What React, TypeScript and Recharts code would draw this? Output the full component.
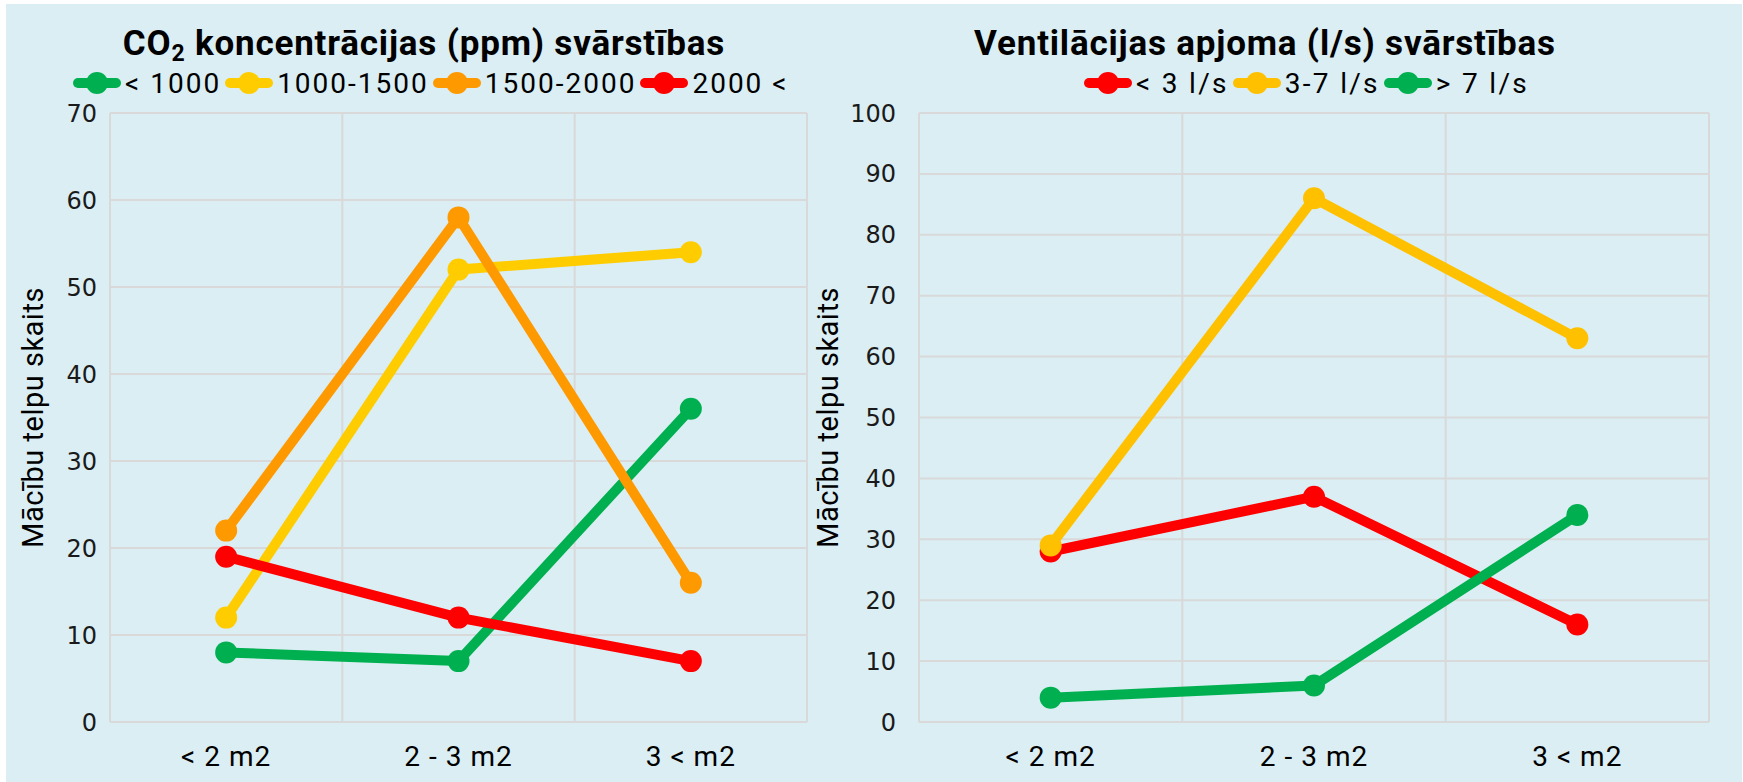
import { LineChart, Line, XAxis, YAxis, CartesianGrid } from "recharts";

const CATEGORIES = ["< 2 m2", "2 - 3 m2", "3 < m2"];

// CO2 panel
const CO2_LT_1000 = [8, 7, 36];
const CO2_1000_1500 = [12, 52, 54];
const CO2_1500_2000 = [22, 58, 16];
const CO2_GT_2000 = [19, 12, 7];
const CO2_TICKS = [0, 10, 20, 30, 40, 50, 60, 70];

// ventilation panel
const VENT_LT_3 = [28, 37, 16];
const VENT_3_7 = [29, 86, 63];
const VENT_GT_7 = [4, 6, 34];
const VENT_TICKS = [0, 10, 20, 30, 40, 50, 60, 70, 80, 90, 100];

const Y_TITLE = "Mācību telpu skaits";

const GREEN = "#00B050";
const YELLOW = "#FFCC00";
const AMBER = "#FFC000";
const ORANGE = "#FF9900";
const RED = "#FF0000";
const GRID = "#D9D9D9";
const BG = "#DAEEF3";

const TEXT_FONT = "Roboto, 'Open Sans', sans-serif";
const NUM_FONT = "'DejaVu Sans', Verdana, sans-serif";

const co2Series = [
  { key: "lt1000", label: "< 1000", color: GREEN, values: CO2_LT_1000 },
  { key: "s1000", label: "1000-1500", color: YELLOW, values: CO2_1000_1500 },
  { key: "s1500", label: "1500-2000", color: ORANGE, values: CO2_1500_2000 },
  { key: "gt2000", label: "2000 <", color: RED, values: CO2_GT_2000 },
];

const ventSeries = [
  { key: "lt3", label: "< 3 l/s", color: RED, values: VENT_LT_3 },
  { key: "s37", label: "3-7 l/s", color: AMBER, values: VENT_3_7 },
  { key: "gt7", label: "> 7 l/s", color: GREEN, values: VENT_GT_7 },
];

type Series = { key: string; label: string; color: string; values: number[] };

function buildRows(series: Series[]) {
  return CATEGORIES.map((cat, i) => {
    const row: Record<string, string | number> = { cat };
    series.forEach((s) => {
      row[s.key] = s.values[i];
    });
    return row;
  });
}

function LegendRow({
  items,
  left,
  width,
  spacing,
}: {
  items: Series[];
  left: number;
  width: number;
  spacing: number;
}) {
  return (
    <div
      style={{
        position: "absolute",
        left,
        top: 66,
        width,
        height: 34,
        overflow: "hidden",
        whiteSpace: "nowrap",
        display: "flex",
        alignItems: "center",
        fontFamily: TEXT_FONT,
        fontSize: 28,
        letterSpacing: spacing,
        color: "#000",
      }}
    >
      {items.map((s) => (
        <div key={s.key} style={{ display: "flex", alignItems: "center", marginRight: 4 }}>
          <svg width={48} height={26}>
            <line x1={5} y1={13} x2={43} y2={13} stroke={s.color} strokeWidth={10} strokeLinecap="round" />
            <circle cx={24} cy={13} r={11} fill={s.color} />
          </svg>
          <span style={{ marginLeft: 4 }}>{s.label}</span>
        </div>
      ))}
    </div>
  );
}

function YTitle(props: any) {
  const { viewBox, x } = props;
  const cy = viewBox.y + viewBox.height / 2;
  return (
    <text
      x={x}
      y={cy}
      transform={`rotate(-90 ${x} ${cy})`}
      textAnchor="middle"
      dominantBaseline="central"
      fontFamily={TEXT_FONT}
      fontSize={29}
      letterSpacing={0.5}
      fill="#000"
    >
      {Y_TITLE}
    </text>
  );
}

function Panel({
  series,
  ticks,
  max,
  left,
  width,
  yAxisWidth,
  marginRight,
  tickMargin,
  titleX,
}: {
  series: Series[];
  ticks: number[];
  max: number;
  left: number;
  width: number;
  yAxisWidth: number;
  marginRight: number;
  tickMargin: number;
  titleX: number;
}) {
  const rows = buildRows(series);
  const plotWidth = width - yAxisWidth - marginRight;
  const pad = plotWidth / CATEGORIES.length / 2;
  return (
    <div style={{ position: "absolute", left, top: 0 }}>
      <LineChart
        width={width}
        height={782}
        data={rows}
        margin={{ top: 113, right: marginRight, bottom: 20, left: 0 }}
      >
        <CartesianGrid
          stroke={GRID}
          strokeWidth={2}
          verticalCoordinatesGenerator={({ offset }: any) =>
            [0, 1, 2, 3].map((i) => offset.left + (i * offset.width) / 3)
          }
        />
        <XAxis
          dataKey="cat"
          height={40}
          padding={{ left: pad, right: pad }}
          axisLine={{ stroke: GRID, strokeWidth: 2 }}
          tickLine={false}
          tickMargin={18}
          tick={{ fontFamily: TEXT_FONT, fontSize: 28, fill: "#000", letterSpacing: 1 }}
          interval={0}
        />
        <YAxis
          width={yAxisWidth}
          domain={[0, max]}
          ticks={ticks}
          axisLine={false}
          tickLine={false}
          tickMargin={tickMargin}
          tick={{ fontFamily: NUM_FONT, fontSize: 24, fill: "#1a1a1a" }}
          label={{ content: (p: any) => <YTitle {...p} x={titleX} /> }}
        />
        {series.map((s) => (
          <Line
            key={s.key}
            dataKey={s.key}
            stroke={s.color}
            strokeWidth={10}
            strokeLinejoin="round"
            dot={{ r: 11, fill: s.color, stroke: s.color, strokeWidth: 0 }}
            activeDot={false}
            isAnimationActive={false}
          />
        ))}
      </LineChart>
    </div>
  );
}

const titleStyle = {
  position: "absolute" as const,
  width: 700,
  top: 22,
  textAlign: "center" as const,
  fontFamily: TEXT_FONT,
  fontWeight: 700,
  fontSize: 35,
  letterSpacing: 0.8,
  lineHeight: "44px",
  whiteSpace: "nowrap" as const,
};

export default function App() {
  return (
    <div
      style={{
        position: "absolute",
        left: 0,
        top: 0,
        width: 1743,
        height: 782,
        background: "#fff",
        overflow: "hidden",
      }}
    >
      <div style={{ position: "absolute", left: 6, top: 4, width: 1736, height: 778, background: BG }} />
      <div style={{ ...titleStyle, left: 74 }}>
        CO<sub style={{ fontSize: 23, verticalAlign: "-6px", lineHeight: 0 }}>2</sub> koncentrācijas (ppm) svārstības
      </div>
      <div style={{ ...titleStyle, left: 915 }}>Ventilācijas apjoma (l/s) svārstības</div>
      <LegendRow items={co2Series} left={73} width={720} spacing={2} />
      <LegendRow items={ventSeries} left={1084} width={460} spacing={2.3} />
      <Panel
        series={co2Series}
        ticks={CO2_TICKS}
        max={70}
        left={0}
        width={870}
        yAxisWidth={110}
        marginRight={63}
        tickMargin={7}
        titleX={33}
      />
      <Panel
        series={ventSeries}
        ticks={VENT_TICKS}
        max={100}
        left={790}
        width={953}
        yAxisWidth={129}
        marginRight={34}
        tickMargin={17}
        titleX={38}
      />
    </div>
  );
}
